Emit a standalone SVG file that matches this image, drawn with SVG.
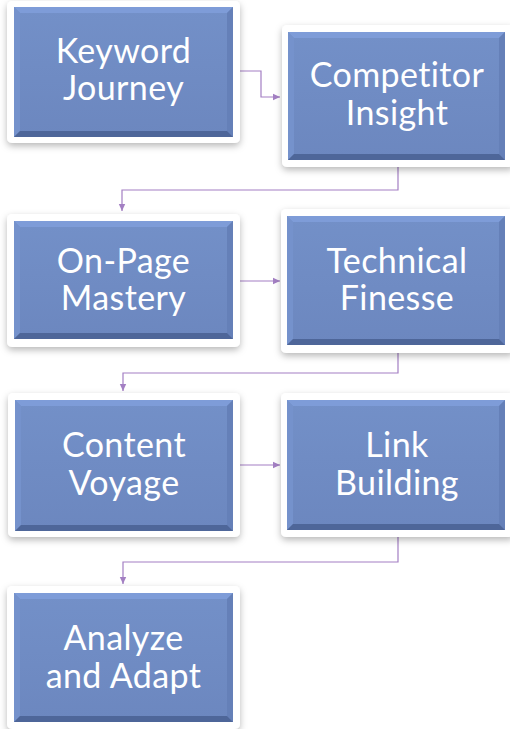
<svg xmlns="http://www.w3.org/2000/svg" width="510" height="729" viewBox="0 0 510 729">
<defs>
<style>
.frame{fill:#ffffff;filter:url(#sh);}
.face{fill:url(#fg);}
.bt{fill:#7E9CD8;}
.bl{fill:#7592CC;}
.br{fill:#6580B8;}
.bb{fill:#4E6699;}
.lbl{font-family:Lato,"Liberation Sans",sans-serif;font-weight:400;font-size:34px;letter-spacing:0.4px;fill:#ffffff;text-anchor:middle;}
.con{fill:none;stroke:#A37FC3;stroke-width:1.2;}
</style>
<linearGradient id="fg" x1="0" y1="0" x2="0" y2="1">
<stop offset="0" stop-color="#7390C8"/>
<stop offset="1" stop-color="#6C87BF"/>
</linearGradient>
<filter id="sh" x="-10%" y="-10%" width="120%" height="125%">
<feDropShadow dx="0" dy="3" stdDeviation="3.5" flood-color="#000" flood-opacity="0.28"/>
</filter>
<marker id="ar" markerWidth="8" markerHeight="8" refX="7" refY="4" orient="auto" markerUnits="userSpaceOnUse">
<path d="M0,0.8 L7,4 L0,7.2 Z" fill="#A37FC3"/>
</marker>
</defs>
<rect width="510" height="729" fill="#ffffff"/>
<g id="connectors">
<path class="con" d="M240,71 H261 V97 H280" marker-end="url(#ar)"/>
<path class="con" d="M398,167 V190 H122 V211" marker-end="url(#ar)"/>
<path class="con" d="M240,281 H280" marker-end="url(#ar)"/>
<path class="con" d="M398,353 V373 H123 V391" marker-end="url(#ar)"/>
<path class="con" d="M240,465 H280" marker-end="url(#ar)"/>
<path class="con" d="M398,537 V562 H123 V584" marker-end="url(#ar)"/>
</g>
<g id="n1">
<rect class="frame" x="7" y="1" width="233" height="142" rx="5"/>
<rect class="face" x="14" y="7" width="219" height="130"/>
<polygon class="bt" points="14,7 233,7 227,13 20,13"/>
<polygon class="bl" points="14,7 20,13 20,131 14,137"/>
<polygon class="br" points="233,7 233,137 227,131 227,13"/>
<polygon class="bb" points="14,137 20,131 227,131 233,137"/>
<text class="lbl" x="123.5" y="63">Keyword</text>
<text class="lbl" x="123.5" y="100">Journey</text>
</g>
<g id="n2">
<rect class="frame" x="282" y="25" width="232" height="142" rx="5"/>
<rect class="face" x="288" y="32" width="217" height="128"/>
<polygon class="bt" points="288,32 505,32 499,38 294,38"/>
<polygon class="bl" points="288,32 294,38 294,154 288,160"/>
<polygon class="br" points="505,32 505,160 499,154 499,38"/>
<polygon class="bb" points="288,160 294,154 499,154 505,160"/>
<text class="lbl" x="397" y="87">Competitor</text>
<text class="lbl" x="397" y="125">Insight</text>
</g>
<g id="n3">
<rect class="frame" x="7" y="214" width="233" height="133" rx="5"/>
<rect class="face" x="14" y="221" width="219" height="118"/>
<polygon class="bt" points="14,221 233,221 227,227 20,227"/>
<polygon class="bl" points="14,221 20,227 20,333 14,339"/>
<polygon class="br" points="233,221 233,339 227,333 227,227"/>
<polygon class="bb" points="14,339 20,333 227,333 233,339"/>
<text class="lbl" x="123.5" y="273">On-Page</text>
<text class="lbl" x="123.5" y="310">Mastery</text>
</g>
<g id="n4">
<rect class="frame" x="281" y="209" width="233" height="144" rx="5"/>
<rect class="face" x="287" y="216" width="218" height="129"/>
<polygon class="bt" points="287,216 505,216 499,222 293,222"/>
<polygon class="bl" points="287,216 293,222 293,339 287,345"/>
<polygon class="br" points="505,216 505,345 499,339 499,222"/>
<polygon class="bb" points="287,345 293,339 499,339 505,345"/>
<text class="lbl" x="397" y="273">Technical</text>
<text class="lbl" x="397" y="310">Finesse</text>
</g>
<g id="n5">
<rect class="frame" x="8" y="393" width="232" height="144" rx="5"/>
<rect class="face" x="15" y="400" width="218" height="131"/>
<polygon class="bt" points="15,400 233,400 227,406 21,406"/>
<polygon class="bl" points="15,400 21,406 21,525 15,531"/>
<polygon class="br" points="233,400 233,531 227,525 227,406"/>
<polygon class="bb" points="15,531 21,525 227,525 233,531"/>
<text class="lbl" x="124" y="457">Content</text>
<text class="lbl" x="124" y="495">Voyage</text>
</g>
<g id="n6">
<rect class="frame" x="281" y="393" width="233" height="144" rx="5"/>
<rect class="face" x="287" y="400" width="218" height="130"/>
<polygon class="bt" points="287,400 505,400 499,406 293,406"/>
<polygon class="bl" points="287,400 293,406 293,524 287,530"/>
<polygon class="br" points="505,400 505,530 499,524 499,406"/>
<polygon class="bb" points="287,530 293,524 499,524 505,530"/>
<text class="lbl" x="397" y="457">Link</text>
<text class="lbl" x="397" y="495">Building</text>
</g>
<g id="n7">
<rect class="frame" x="7" y="586" width="233" height="143" rx="5"/>
<rect class="face" x="14" y="593" width="219" height="129"/>
<polygon class="bt" points="14,593 233,593 227,599 20,599"/>
<polygon class="bl" points="14,593 20,599 20,716 14,722"/>
<polygon class="br" points="233,593 233,722 227,716 227,599"/>
<polygon class="bb" points="14,722 20,716 227,716 233,722"/>
<text class="lbl" x="123.5" y="650">Analyze</text>
<text class="lbl" x="123.5" y="688">and Adapt</text>
</g>
</svg>
